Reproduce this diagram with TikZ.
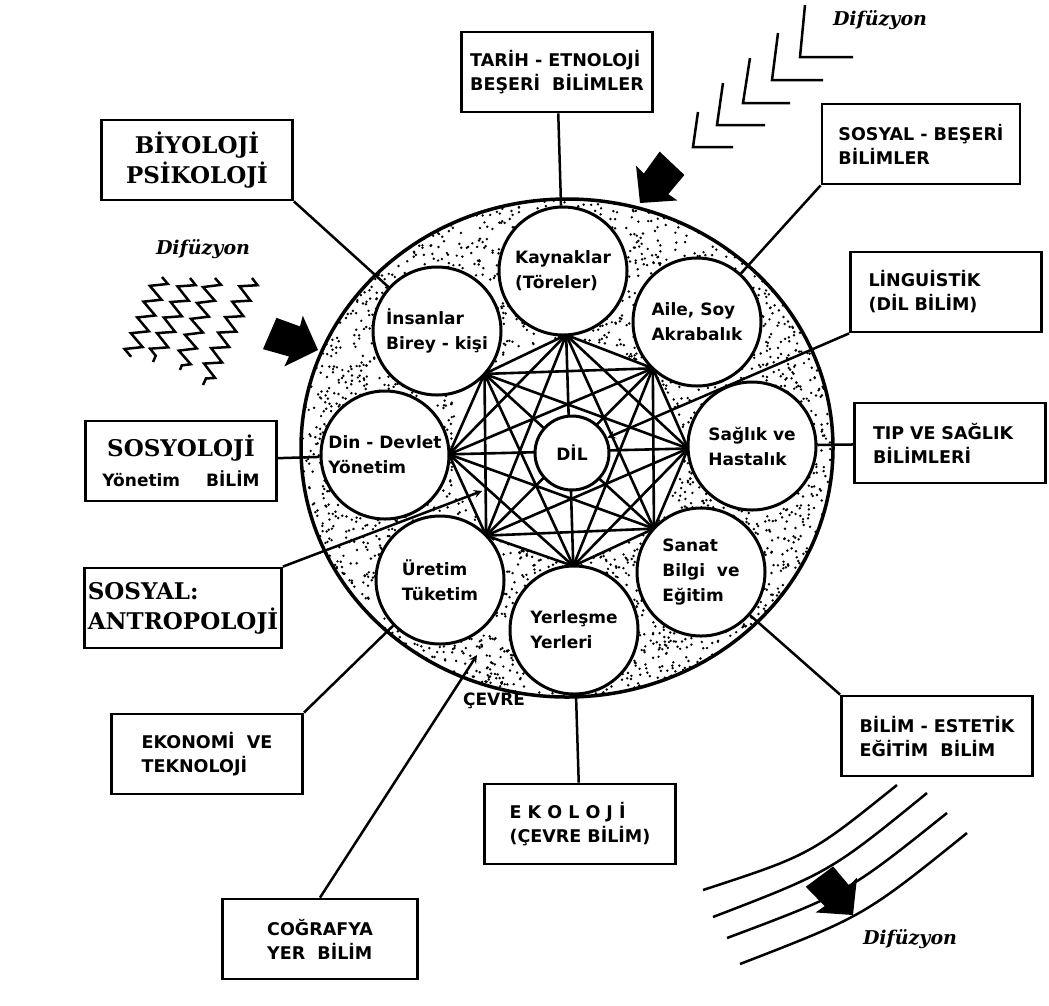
\documentclass[tikz,border=0pt]{standalone}
\usepackage{fontspec}
\setmainfont{DejaVu Serif}
\setsansfont{DejaVu Sans}
\usetikzlibrary{calc,backgrounds,decorations.pathmorphing}

\tikzset{
  fieldbox/.style={draw, line width=2.8pt, minimum width=191pt, minimum height=80pt, align=left, font=\sffamily\bfseries\fontsize{17.5}{24}\selectfont},
  leftbox/.style={fieldbox, inner xsep=18pt, text width=155pt},
  serifbox/.style={fieldbox, align=center, font=\rmfamily\bfseries\fontsize{23}{30}\selectfont},
  topic/.style={circle, draw, line width=3pt, fill=white, minimum size=128pt, inner sep=0pt, align=left, font=\sffamily\bfseries\fontsize{17}{25}\selectfont},
  conn/.style={line width=2.5pt},
  chord/.style={line width=2.6pt},
  diffusion/.style={font=\rmfamily\bfseries\itshape\fontsize{19}{19}\selectfont},
  fatarrow/.pic={\fill (0,0) -- (-26,27) -- (-25,16) -- (-52,18) -- (-50,-16) -- (-25,-16) -- (-26,-27) -- cycle;}
}

\begin{document}
\begin{tikzpicture}[x=1pt, y=-1pt]
\useasboundingbox (0,0) rectangle (1049,1005);

% the eight fields round the language
\node[topic] (kay) at (563,271) {Kaynaklar\\(Töreler)};
\node[topic] (aile) at (697,322) {Aile, Soy\\Akrabalık};
\node[topic] (sag) at (752,446) {Sağlık ve\\Hastalık};
\node[topic] (san) at (701,572) {Sanat\\Bilgi\ \ ve\\Eğitim};
\node[topic] (yer) at (574,630) {Yerleşme\\Yerleri};
\node[topic] (ure) at (440,580) {Üretim\\Tüketim};
\node[topic] (din) at (385,455) {Din - Devlet\\Yönetim};
\node[topic] (ins) at (437,331) {İnsanlar\\Birey - kişi};
\node[topic, minimum size=74pt, align=center] (dil) at (572,453) {DİL};

% dotted environment and the net of lines
\begin{scope}[on background layer]
  \pgfmathsetseed{4242}
  \foreach \k in {1,...,3300}{
    \pgfmathsetmacro\ang{360*rnd}
    \pgfmathsetmacro\rr{sqrt(0.19+0.81*rnd)}
    \fill ({567+266*\rr*cos(\ang)},{448+249*\rr*sin(\ang)}) circle (1.35pt);
  }
  \foreach \n [count=\i] in {kay,aile,sag,san,yer,ure,din,ins}
    \coordinate (p\i) at ($(\n)!64pt!(dil)$);
  \fill[white] (p1) -- (p2) -- (p3) -- (p4) -- (p5) -- (p6) -- (p7) -- (p8) -- cycle;
  \foreach \i in {1,...,7}{
    \pgfmathtruncatemacro\s{\i+1}
    \foreach \j in {\s,...,8}
      \draw[chord] (p\i) -- (p\j);
  }
\end{scope}
\draw[line width=3.5pt] (567,448) ellipse [x radius=266pt, y radius=249pt];
\node[font=\sffamily\bfseries\fontsize{17}{17}\selectfont] (cevre) at (494,701) {ÇEVRE};

% sciences
\node[fieldbox] (tarih) at (557,72) {TARİH - ETNOLOJİ\\BEŞERİ\ \ BİLİMLER};
\node[serifbox] (biyo) at (197,160) {BİYOLOJİ\\PSİKOLOJİ};
\node[fieldbox, minimum width=198pt] (beseri) at (921,144) {SOSYAL - BEŞERİ\\BİLİMLER};
\node[leftbox] (ling) at (946,292) {LİNGUİSTİK\\(DİL BİLİM)};
\node[leftbox, text width=154pt] (tip) at (950,443) {TIP VE SAĞLIK\\BİLİMLERİ};
\node[serifbox] (sosyo) at (181,461) {SOSYOLOJİ\\{\sffamily\fontsize{17}{24}\selectfont Yönetim\hspace{26pt}BİLİM}};
\node[serifbox, align=left] (antrop) at (183,608) {SOSYAL:\\ANTROPOLOJİ};
\node[fieldbox] (ekonomi) at (207,754) {EKONOMİ\ \ VE\\TEKNOLOJİ};
\node[fieldbox] (ekoloji) at (580,824) {E K O L O J İ\\(ÇEVRE BİLİM)};
\node[fieldbox] (estetik) at (937,736) {BİLİM - ESTETİK\\EĞİTİM\ \ BİLİM};
\node[fieldbox, minimum width=195pt] (cografya) at (320,939) {COĞRAFYA\\YER\ \ BİLİM};

\coordinate (hedef) at (482,491);
\coordinate (cevreok) at (477,655);
\draw[conn] (tarih) -- (kay);
\draw[conn] (biyo.south east) -- (ins);
\draw[conn] (beseri.south west) -- (aile);
\draw[conn, -stealth] (ling.south west) -- (dil);
\draw[conn] (tip) -- (sag);
\draw[conn] (sosyo) -- (din);
\draw[conn, -stealth] (antrop.north east) -- (hedef);
\draw[conn] (ekonomi.north east) -- (ure);
\draw[conn] (ekoloji) -- (yer);
\draw[conn] (estetik.north west) -- (san);
\draw[conn, -stealth] (cografya.north) -- (cevreok);

% diffusion
\node[diffusion] (dif1) at (880,20) {Difüzyon};
\node[diffusion] (dif2) at (203,249) {Difüzyon};
\node[diffusion] (dif3) at (910,939) {Difüzyon};
\foreach \a/\b/\c/\d/\e in {805/5/800/57/853, 778/33/772/80/823, 750/58/743/103/790, 723/83/717/125/765, 698/112/693/147/733}
  \draw[conn] (\a,\b) -- (\c,\d) -- (\e,\d);
\foreach \a/\b/\c/\d in {162/277/130/357, 190/278/153/362, 215/278/180/370, 252/278/203/385}
  \draw[conn, decorate, decoration={zigzag, segment length=17pt, amplitude=8pt}] (\a,\b) -- (\c,\d);
\foreach \a/\b/\c/\d/\e/\f in {703/890/810/855/897/785, 713/917/830/872/927/793, 727/938/847/893/947/813, 740/964/864/916/967/833}
  \draw[conn] (\a,\b) .. controls (\c,\d) .. (\e,\f);
\pic[rotate=-20] at (318,350) {fatarrow};
\pic[rotate=-130] at (640,203) {fatarrow};
\pic[rotate=-50] at (853,915) {fatarrow};
\end{tikzpicture}
\end{document}
